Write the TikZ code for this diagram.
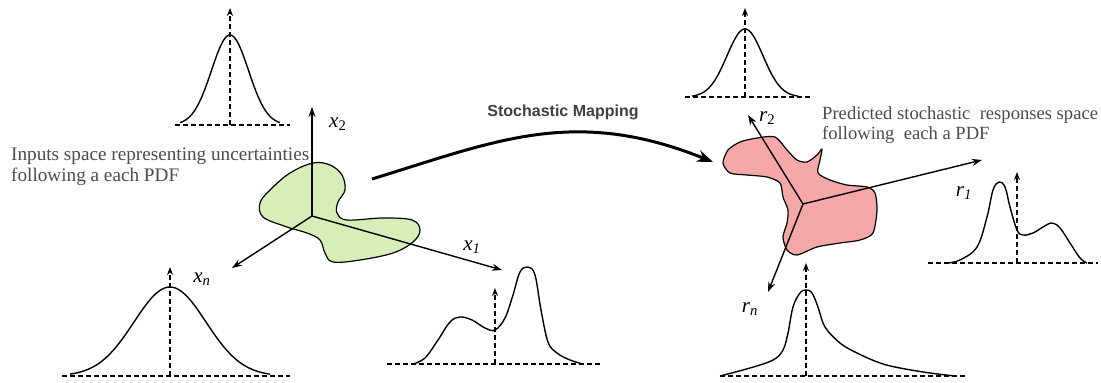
\documentclass[tikz,border=0pt]{standalone}
\usepackage{fontspec}
\setmainfont{Liberation Serif}
\newfontfamily\mapfont{Liberation Sans}
\usetikzlibrary{arrows.meta}
\definecolor{gfill}{RGB}{214,238,184}
\definecolor{rfill}{RGB}{246,168,168}
\definecolor{txt}{RGB}{75,75,75}

\begin{document}
\begin{tikzpicture}[x=1pt, y=-1pt,
  every node/.style={inner sep=0pt},
  pdf/.style  ={line width=1.4pt, line join=round},
  bline/.style={dash pattern=on 5pt off 3pt, line width=1.3pt},
  vline/.style={bline, -{Stealth[length=8pt,width=6pt]}},
  ax/.style   ={line width=1.4pt, -{Stealth[length=10pt,width=7pt]}},
  blob/.style ={line width=1.2pt, line join=round},
  lbl/.style  ={font=\fontsize{21}{21}\selectfont\itshape},
  desc/.style ={text=txt, align=left, anchor=north west},
  map/.style  ={line width=3pt, -{Stealth[length=16pt,width=12pt]}}
]
\useasboundingbox (0,0) rectangle (1101,383);

%% input and response spaces
\draw[blob, fill=gfill] plot[smooth cycle, tension=0.6] coordinates {
  (313,163) (330,165) (342,175) (345,190) (338,202) (337,213) (347,220)
  (383,218) (412,220) (420,230) (413,242) (393,253) (360,260) (333,262)
  (325,253) (320,240) (307,233) (287,227) (263,217) (260,203) (270,190) (290,173)};
\draw[blob, fill=rfill] plot[smooth cycle, tension=0.45] coordinates {
  (723,163) (728,150) (740,142) (757,138) (775,137) (787,150) (797,160)
  (807,162) (817,155) (822,149) (820,160) (818,173) (830,180) (847,185)
  (867,187) (875,193) (877,210) (873,233) (860,240) (840,243) (817,247)
  (797,255) (787,250) (783,237) (787,223) (788,210) (783,197) (780,183)
  (767,177) (747,175) (730,173)};

%% axes
\coordinate (ox) at (312,216);
\coordinate (x1) at (502,270);
\coordinate (x2) at (312,107);
\coordinate (xn) at (232,268);
\coordinate (or) at (803,204);
\coordinate (r1) at (982,160);
\coordinate (r2) at (748,115);
\coordinate (rn) at (768,292);
\foreach \a/\b in {ox/x1,ox/x2,ox/xn,or/r1,or/r2,or/rn}
  \draw[ax] (\a)--(\b);

\node[lbl, anchor=west] (lx2) at (329,124) {x\textsubscript{\upshape 2}};
\node[lbl] (lx1) at (472,247) {x\textsubscript{1}};
\node[lbl] (lxn) at (202,279) {x\textsubscript{n}};
\node[lbl, anchor=west] (lr2) at (759,118) {r\textsubscript{\upshape 2}};
\node[lbl] (lr1) at (964,193) {r\textsubscript{1}};
\node[lbl] (lrn) at (750,309) {r\textsubscript{n}};

%% stochastic mapping
\coordinate (m0) at (372,179);
\coordinate (m1) at (713,162);
\draw[map] (m0) .. controls (496,141) and (574,106) .. (m1);
\node[font=\mapfont\bfseries\fontsize{16}{16}\selectfont, text=black!75] (mlab) at (563,112) {Stochastic Mapping};

%% descriptions
\node[desc, font=\fontsize{19.2}{21}\selectfont] (din) at (11,148)
  {Inputs space representing uncertainties\\following a each PDF};
\node[desc, font=\fontsize{18.6}{20}\selectfont] (dout) at (822,106)
  {Predicted stochastic\ \ responses space\\following\ \ each a PDF};

%% gaussian pdfs
\foreach \cx/\by/\h/\s/\w in {230/125/90/18.5/50, 745/97/68/18/53, 170/376/89/36/100}
  \draw[pdf] plot[domain=-\w:\w, samples=60] ({\cx+\x},{\by-\h*exp(-0.5*(\x/\s)^2)});

%% skewed and bimodal pdfs
\draw[pdf] plot[smooth, tension=0.6] coordinates {
  (413,364) (425,358) (438,340) (450,322) (460,317) (472,320) (485,328)
  (495,330) (505,318) (513,295) (520,272) (528,267) (535,275) (541,310)
  (548,342) (557,353) (570,360) (583,364)};
\draw[pdf] plot[smooth, tension=0.6] coordinates {
  (947,263) (960,260) (977,247) (987,217) (993,190) (999,182) (1005,187)
  (1010,207) (1017,230) (1023,235) (1033,233) (1043,227) (1052,223)
  (1060,228) (1070,243) (1080,258) (1087,263)};
\draw[pdf] plot[smooth, tension=0.6] coordinates {
  (720,376) (750,368) (773,360) (783,350) (788,333) (793,307) (800,293)
  (806,290) (812,293) (818,307) (825,327) (840,343) (857,353) (880,363)
  (900,368) (930,373) (955,376)};

%% dashed supports and means
\foreach \xa/\xb/\xc/\by/\yt in {175/290/230/125/8, 685/813/745/97/8,
    62/290/170/376/267, 387/600/495/364/288, 928/1098/1017/263/172, 720/965/806/376/263}
{
  \draw[bline] (\xa,\by) -- (\xb,\by);
  \draw[vline] (\xc,\by) -- (\xc,\yt);
}
\end{tikzpicture}
\end{document}
